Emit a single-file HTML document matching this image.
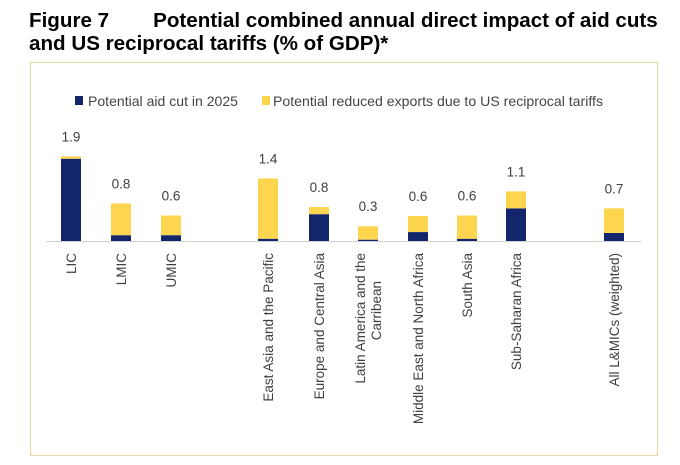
<!DOCTYPE html>
<html><head><meta charset="utf-8"><style>
body{margin:0;background:#fff;width:680px;height:465px;overflow:hidden;font-family:"Liberation Sans",Arial,sans-serif}
#title{position:absolute;left:29px;top:9px;font-size:20.6px;font-weight:bold;line-height:23px;color:#000;white-space:nowrap}
#frame{position:absolute;left:30px;top:62px;width:628px;height:394px;border:1.5px solid #e3d9a6;box-sizing:border-box}
svg{position:absolute;left:0;top:0}
</style></head><body>
<div id="title">Figure 7<span style="display:inline-block;width:44px"></span>Potential combined annual direct impact of aid cuts<br>and US reciprocal tariffs (% of GDP)*</div>
<div id="frame"></div>
<svg id="chart" width="680" height="465"></svg>
<script>
const categories=["LIC","LMIC","UMIC","East Asia and the Pacific","Europe and Central Asia","Latin America and the|Carribean","Middle East and North Africa","South Asia","Sub-Saharan Africa","All L&MICs (weighted)"];
const aidCut=[1.84,0.13,0.13,0.05,0.6,0.03,0.2,0.05,0.73,0.18];
const tariffs=[0.05,0.71,0.44,1.35,0.16,0.3,0.36,0.52,0.38,0.55];
const totalLabels=["1.9","0.8","0.6","1.4","0.8","0.3","0.6","0.6","1.1","0.7"];
const xCenters=[71,121,171,268,319,368,418,467,516,614];
const NS="http://www.w3.org/2000/svg";
const svg=document.getElementById('chart');
const base=241, unit=44.7, bw=20;
function y(v){return base-v*unit;}
function mk(t,a){const e=document.createElementNS(NS,t);for(const k in a)e.setAttribute(k,a[k]);svg.appendChild(e);return e;}
let r=mk('rect',{x:75,y:96,width:8,height:9,fill:'#13266b'});


let t=mk('text',{x:88,y:106,'font-size':14,fill:'#444',textLength:150,lengthAdjust:'spacingAndGlyphs'});t.textContent='Potential aid cut in 2025';


r=mk('rect',{x:262,y:96,width:8,height:9,fill:'#fdd54f'});


t=mk('text',{x:273,y:106,'font-size':14,fill:'#444',textLength:330,lengthAdjust:'spacingAndGlyphs'});t.textContent='Potential reduced exports due to US reciprocal tariffs';


let ax=mk('line',{x1:46,x2:641,y1:base+0.5,y2:base+0.5,stroke:'#d0d0d0','stroke-width':1});


categories.forEach((c,i)=>{
  const cx=xCenters[i];
  const a=mk('rect',{x:cx-bw/2,y:y(aidCut[i]),width:bw,height:aidCut[i]*unit,fill:'#13266b'});
  
  
  const b=mk('rect',{x:cx-bw/2,y:y(aidCut[i]+tariffs[i]),width:bw,height:tariffs[i]*unit,fill:'#fdd54f'});
  
  
  const l=mk('text',{x:cx,y:y(aidCut[i]+tariffs[i])-15,'font-size':13.5,fill:'#404040','text-anchor':'middle'});
  l.textContent=totalLabels[i];
  
  
  const lines=c.split('|');
  const g=mk('text',{transform:`translate(${cx},253) rotate(-90)`,'font-size':13.5,fill:'#404040','text-anchor':'end'});
  
  
  lines.forEach((ln,j)=>{
    const s=document.createElementNS(NS,'tspan');
    s.setAttribute('x',lines.length>1?(j===0?0:-28):0);
    s.setAttribute('y',(lines.length>1?(j===0?-3:13):5));
    s.textContent=ln;g.appendChild(s);
  });
});
</script>
</body></html>
